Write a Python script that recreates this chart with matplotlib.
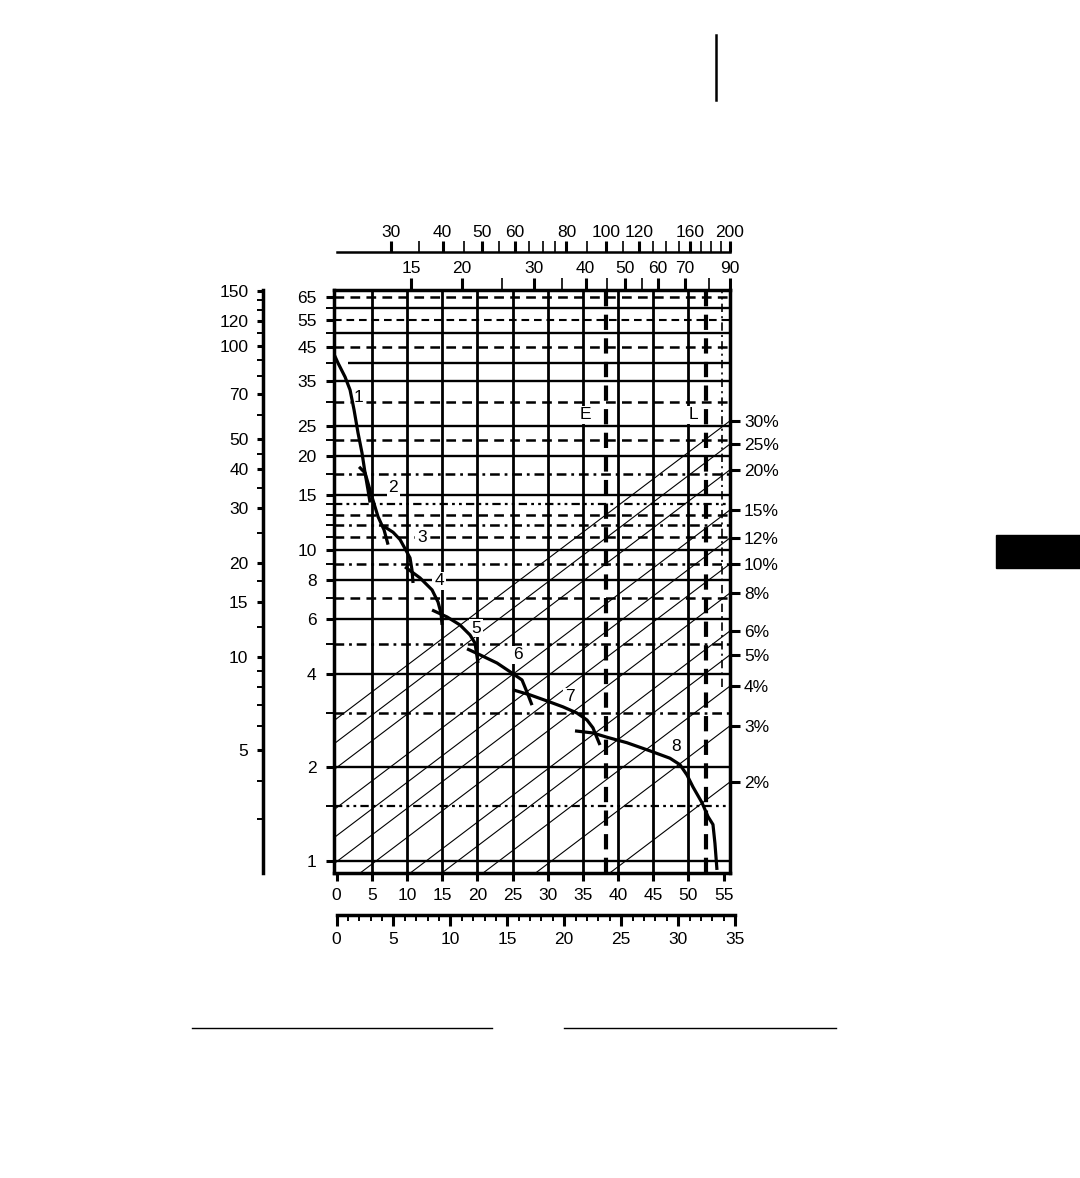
import numpy as np
import matplotlib
matplotlib.use('Agg')
import matplotlib.pyplot as plt
from matplotlib.lines import Line2D
from matplotlib.patches import Rectangle
from matplotlib.ticker import NullFormatter, NullLocator

plt.rcParams['font.family'] = ['Liberation Sans', 'DejaVu Sans']
plt.rcParams['font.size'] = 12.5
plt.rcParams['lines.scale_dashes'] = False

# ---------------- data ----------------
# main axes: x = distance (0..55), y = log scale (1..65)
x_ticks = [0, 5, 10, 15, 20, 25, 30, 35, 40, 45, 50, 55]
y_major = [1, 2, 4, 6, 8, 10, 15, 20, 25, 35, 45, 55, 65]
y_minor = [1.5, 3, 5, 7, 9, 11, 12, 13, 14, 17.5, 22.5, 30, 40, 50, 60]

# left outer scale (pounds = main * 2.2046)
lb_major = [2, 5, 10, 15, 20, 30, 40, 50, 70, 100, 120, 150]
lb_minor = [3, 4, 6, 7, 8, 9, 12.5, 17.5, 25, 35, 45, 60, 80, 90, 110, 130, 140]

# top scales (log)
kg_major = [15, 20, 30, 40, 50, 60, 70, 90]
kg_minor = [25, 35, 45, 55, 80]
lbt_major = [30, 40, 50, 60, 80, 100, 120, 160, 200]
lbt_minor = [35, 45, 55, 65, 70, 75, 90, 110, 130, 140, 150, 170, 180, 190]

# bottom miles scale
mi_major = [0, 5, 10, 15, 20, 25, 30, 35]
mi_minor = list(range(0, 36))

# right percentage scale: label and y value where diagonal meets right edge
pct_labels = ['30%', '25%', '20%', '15%', '12%', '10%', '8%', '6%', '5%', '4%', '3%', '2%']
pct_y = [26.0, 21.9, 18.1, 13.45, 10.93, 9.02, 7.27, 5.49, 4.60, 3.65, 2.72, 1.795]

# horizontal reference lines
h_vals = [65, 60, 55, 50, 45, 40, 35, 30, 25, 22.5, 20, 17.5, 15, 14, 13, 12, 11,
          10, 9, 8, 7, 6, 5, 4, 3, 2, 1.5, 1]
h_kind = ['dash', 'solid', 'dashf', 'solid', 'dash', 'solid', 'solid', 'dash', 'solid',
          'dash', 'solid', 'dashdot', 'solid', 'dashdotdot', 'dash', 'dashdot', 'dash',
          'solid', 'dashdot', 'solid', 'dash', 'solid', 'dashdot', 'solid', 'dashdot',
          'solid', 'dashdotdot', 'solid']

# vertical grid
v_vals = [5, 10, 15, 20, 25, 30, 35, 40, 45, 50]
E_x, L_x, DD_x = 38.3, 52.5, 54.8
DD_ymin = 3.63

# curves
c1x = [-0.3, 0.21, 1.21, 1.92, 2.49, 3.05, 3.62, 4.05, 4.47, 4.76]
c1y = [42.3, 39.9, 36.0, 32.7, 28.2, 23.8, 20.5, 17.7, 15.6, 14.2]
c2x = [3.20, 4.05, 5.04, 5.89, 6.75, 7.32]
c2y = [18.5, 17.7, 14.8, 12.8, 11.6, 10.4]
c3x = [6.75, 8.03, 9.02, 9.73, 10.44, 10.72, 10.87]
c3y = [11.9, 11.4, 10.8, 10.1, 9.43, 8.62, 7.83]
c4x = [9.73, 11.86, 13.57, 14.42, 14.84, 14.99]
c4y = [8.82, 8.13, 7.44, 6.80, 6.27, 5.74]
c5x = [13.57, 15.70, 17.54, 18.96, 19.67, 20.10]
c5y = [6.41, 6.09, 5.74, 5.33, 5.02, 4.33]
c6x = [18.54, 20.38, 22.80, 24.93, 26.35, 27.06, 27.77]
c6y = [4.81, 4.60, 4.33, 4.02, 3.82, 3.49, 3.17]
c7x = [25.07, 27.49, 29.90, 32.17, 34.16, 35.58, 36.43, 37.00, 37.43]
c7y = [3.55, 3.42, 3.27, 3.13, 2.99, 2.84, 2.68, 2.49, 2.36]
c8x = [33.88, 36.43, 38.42, 41.26, 44.53, 47.37, 48.79, 49.79, 50.64, 51.92, 52.77,
       53.48, 53.76, 54.05]
c8y = [2.62, 2.58, 2.50, 2.40, 2.26, 2.14, 2.04, 1.89, 1.73, 1.54, 1.39, 1.31, 1.14, 0.936]
curves = [(c1x, c1y), (c2x, c2y), (c3x, c3y), (c4x, c4y), (c5x, c5y), (c6x, c6y),
          (c7x, c7y), (c8x, c8y)]
curve_names = ['1', '2', '3', '4', '5', '6', '7', '8']
curve_label_at = [(3.05, 30.8), (8.03, 15.9), (12.14, 11.0), (14.56, 7.95), (19.82, 5.61),
                  (25.78, 4.60), (33.17, 3.37), (48.22, 2.34)]
letter_names = ['E', 'L']
letter_at = [(35.3, 27.2), (50.64, 27.2)]

DIAG_SLOPE = 0.01713   # decades per x unit
KG2LB = 2.2046

# ---------------- layout ----------------
W, H = 1080, 1178
def fx(px): return px / W
def fy(py): return 1 - py / H

XLIM = (-0.36, 55.9)
YLIM = (0.915, 68.5)

fig = plt.figure(figsize=(W / 100, H / 100), dpi=100)
ax = fig.add_axes([fx(334), fy(873), fx(730) - fx(334), fy(290) - fy(873)])
ax.set_yscale('log')
ax.set_xlim(*XLIM)
ax.set_ylim(*YLIM)

styles = {
    'solid': dict(ls='-', lw=1.7),
    'dash': dict(ls=(0, (7, 4.5)), lw=1.8),
    'dashf': dict(ls=(0, (5.5, 3.5)), lw=1.5),
    'dashdot': dict(ls=(0, (7, 3.5, 2, 3.5)), lw=1.8),
    'dashdotdot': dict(ls=(0, (6, 3, 2, 3, 2, 3)), lw=1.6),
}
for v, k in zip(h_vals, h_kind):
    start = 1.6 if v == 40 else XLIM[0]
    ax.hlines(v, start, XLIM[1], colors='k', zorder=2, **styles[k])

for v in v_vals:
    ax.axvline(v, color='k', lw=2.0, zorder=2)
ax.axvline(E_x, color='k', lw=3.0, ls=(0, (11, 6)), zorder=3)
ax.axvline(L_x, color='k', lw=3.0, ls=(0, (11, 6)), zorder=3)
ax.plot([DD_x, DD_x], [DD_ymin, YLIM[1]], color='k', lw=1.2, ls=(0, (6, 3, 1.5, 3)), zorder=2)

# diagonal (percentage) lines
xs = np.linspace(XLIM[0], XLIM[1], 200)
for yr in pct_y:
    ax.plot(xs, yr * 10 ** (-DIAG_SLOPE * (XLIM[1] - xs)), color='k', lw=0.8, zorder=1)

for (cx, cy) in curves:
    ax.plot(cx, cy, color='k', lw=2.3, solid_joinstyle='round', solid_capstyle='butt', zorder=7)

box = dict(boxstyle='square,pad=0.1', fc='white', ec='none')
for s, (tx, ty) in zip(curve_names, curve_label_at):
    ax.text(tx, ty, s, ha='center', va='center', bbox=box, zorder=5)
for s, (tx, ty) in zip(letter_names, letter_at):
    ax.text(tx, ty, s, ha='center', va='center', bbox=box, zorder=5)

for sp in ax.spines.values():
    sp.set_linewidth(2.5)
    sp.set_zorder(8)

ax.set_xticks(x_ticks)
ax.set_xticklabels([str(v) for v in x_ticks])
ax.set_yticks(y_major)
ax.set_yticklabels([str(v) for v in y_major])
ax.set_yticks(y_minor, minor=True)
ax.yaxis.set_minor_formatter(NullFormatter())
ax.xaxis.set_minor_locator(NullLocator())
ax.tick_params(axis='y', which='major', direction='out', length=5.5, width=2.2, pad=7, right=False)
ax.tick_params(axis='y', which='minor', direction='out', length=5.5, width=1.4, right=False)
ax.tick_params(axis='x', which='major', direction='out', length=6, width=2.2, pad=5, top=False)

# left outer pounds axis
sec = ax.secondary_yaxis((263 - 334) / 396, functions=(lambda y: y * KG2LB, lambda y: y / KG2LB))
sec.set_yticks(lb_major)
sec.set_yticklabels([str(v) for v in lb_major])
sec.set_yticks(lb_minor, minor=True)
sec.yaxis.set_minor_formatter(NullFormatter())
sec.spines['left'].set_linewidth(2.5)
sec.tick_params(axis='y', which='major', direction='out', length=4.5, width=2.2, pad=6)
sec.tick_params(axis='y', which='minor', direction='out', length=4, width=1.4)

# right percentage axis
axr = ax.twinx()
axr.set_yscale('log')
axr.set_ylim(*YLIM)
axr.set_yticks(pct_y)
axr.set_yticklabels(pct_labels)
axr.yaxis.set_minor_locator(NullLocator())
for sp in axr.spines.values():
    sp.set_visible(False)
axr.tick_params(axis='y', which='major', direction='out', length=7, width=2.2, pad=3)

# top kg axis (log)
ax_kg = fig.add_axes([fx(334), fy(873), fx(736) - fx(334), fy(290) - fy(873)], frameon=False)
ax_kg.set_xscale('log')
ax_kg.set_xlim(9.735, 93.1)
ax_kg.yaxis.set_visible(False)
ax_kg.xaxis.tick_top()
ax_kg.set_xticks(kg_major)
ax_kg.set_xticklabels([str(v) for v in kg_major])
ax_kg.set_xticks(kg_minor, minor=True)
ax_kg.xaxis.set_minor_formatter(NullFormatter())
ax_kg.tick_params(axis='x', which='major', direction='out', length=9, width=2.2, pad=1)
ax_kg.tick_params(axis='x', which='minor', direction='out', length=9, width=1.2)

# top pounds axis (log)
ax_lb = fig.add_axes([fx(334), fy(253), fx(736) - fx(334), 0.0005])
ax_lb.set_xscale('log')
ax_lb.set_xlim(21.77, 206.8)
ax_lb.patch.set_visible(False)
for k in ['left', 'right', 'bottom']:
    ax_lb.spines[k].set_visible(False)
ax_lb.spines['top'].set_linewidth(1.8)
ax_lb.spines['top'].set_bounds(22.2, 200)
ax_lb.yaxis.set_visible(False)
ax_lb.xaxis.tick_top()
ax_lb.set_xticks(lbt_major)
ax_lb.set_xticklabels([str(v) for v in lbt_major])
ax_lb.set_xticks(lbt_minor, minor=True)
ax_lb.xaxis.set_minor_formatter(NullFormatter())
ax_lb.tick_params(axis='x', which='major', direction='out', length=8, width=2.2, pad=1)
ax_lb.tick_params(axis='x', which='minor', direction='out', length=8, width=1.2)

# bottom miles axis
ax_mi = fig.add_axes([fx(334), fy(915), fx(742) - fx(334), 0.0005])
ax_mi.set_xlim(-0.22, 35.61)
ax_mi.patch.set_visible(False)
for k in ['left', 'right', 'top']:
    ax_mi.spines[k].set_visible(False)
ax_mi.spines['bottom'].set_linewidth(2.5)
ax_mi.spines['bottom'].set_bounds(0, 35)
ax_mi.yaxis.set_visible(False)
ax_mi.set_xticks(mi_major)
ax_mi.set_xticklabels([str(v) for v in mi_major])
ax_mi.set_xticks(mi_minor, minor=True)
ax_mi.tick_params(axis='x', which='major', direction='out', length=8, width=2.2, pad=4)
ax_mi.tick_params(axis='x', which='minor', direction='out', length=4.5, width=1.4)

# page decorations
fig.add_artist(Line2D([fx(716), fx(716)], [fy(35), fy(100)], lw=1.8, color='k'))
fig.add_artist(Rectangle((fx(996), fy(568)), fx(1080) - fx(996), fy(535) - fy(568),
                         color='k', transform=fig.transFigure))
fig.add_artist(Line2D([fx(192), fx(492)], [fy(1028), fy(1028)], lw=1.0, color='k'))
fig.add_artist(Line2D([fx(564), fx(836)], [fy(1028), fy(1028)], lw=1.0, color='k'))

fig.savefig('out.png', dpi=100)
